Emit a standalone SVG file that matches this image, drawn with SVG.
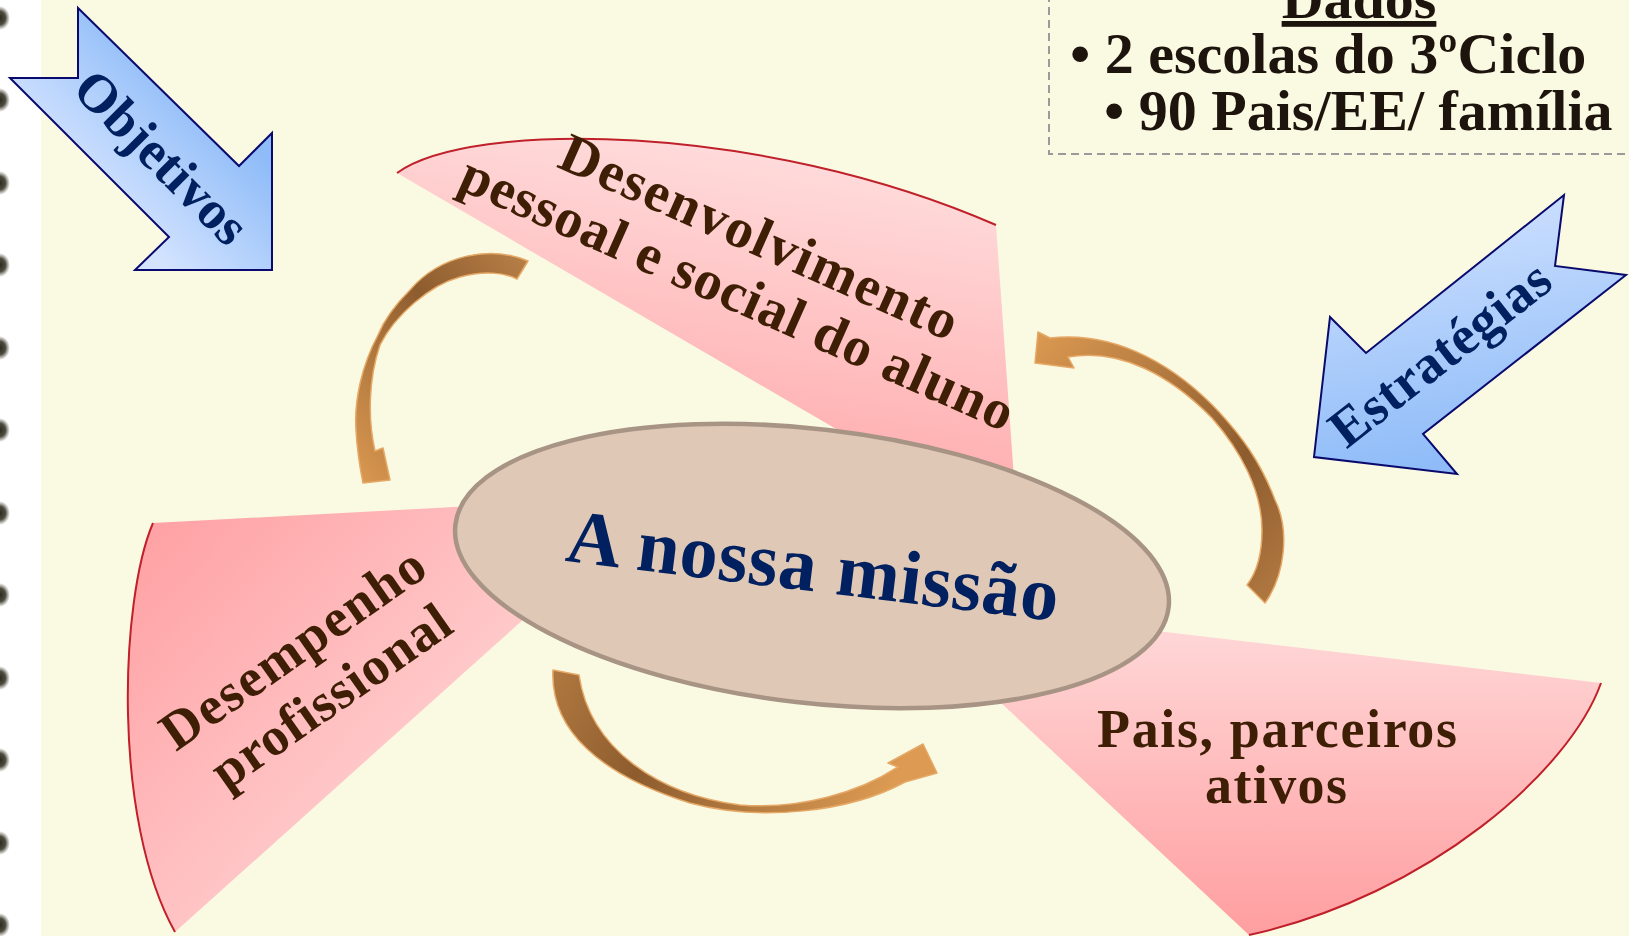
<svg xmlns="http://www.w3.org/2000/svg" width="1629" height="936" viewBox="0 0 1629 936">
<defs>
<style>
.petal-edge{fill:none;stroke:#c0202a;stroke-width:2}
.ptxt{font-family:"Liberation Serif","Times New Roman",serif;font-weight:bold;fill:#3e1e04}
.btxt{font-family:"Liberation Serif","Times New Roman",serif;font-weight:bold;fill:#002060}
.dtxt{font-family:"Liberation Serif","Times New Roman",serif;font-weight:bold;fill:#1e140e;font-size:58px}
.blk{stroke:#0a0a6e;stroke-width:2;stroke-linejoin:miter}
.curv{stroke:#e6a866;stroke-width:1.5;stroke-linejoin:round}
</style>
<radialGradient id="dot" cx="0.5" cy="0.5" r="0.5">
<stop offset="0" stop-color="#2a2a1e"/>
<stop offset="0.55" stop-color="#3a382a" stop-opacity="0.9"/>
<stop offset="1" stop-color="#5a5845" stop-opacity="0"/>
</radialGradient>
<linearGradient id="gTop" x1="0.65" y1="0" x2="0.4" y2="1">
<stop offset="0" stop-color="#ffdede"/>
<stop offset="1" stop-color="#ffa0a2"/>
</linearGradient>
<linearGradient id="gLeft" x1="0" y1="0.05" x2="0.85" y2="0.7">
<stop offset="0" stop-color="#ff9fa2"/>
<stop offset="1" stop-color="#ffdcdc"/>
</linearGradient>
<linearGradient id="gRight" x1="0" y1="0" x2="0" y2="1">
<stop offset="0" stop-color="#ffdcdc"/>
<stop offset="1" stop-color="#ff9ea0"/>
</linearGradient>
<linearGradient id="gObj" gradientUnits="userSpaceOnUse" x1="95" y1="200" x2="200" y2="95">
<stop offset="0" stop-color="#d4e4ff"/>
<stop offset="1" stop-color="#8fbcf8"/>
</linearGradient>
<linearGradient id="gEst" x1="0" y1="0" x2="0.2" y2="1">
<stop offset="0" stop-color="#d4e4ff"/>
<stop offset="1" stop-color="#8fbcf8"/>
</linearGradient>
<linearGradient id="gA1" x1="1" y1="0" x2="0" y2="1">
<stop offset="0" stop-color="#b98048"/>
<stop offset="0.4" stop-color="#8d5c2e"/>
<stop offset="1" stop-color="#dc9a52"/>
</linearGradient>
<linearGradient id="gA2" x1="0" y1="0" x2="1" y2="0.2">
<stop offset="0" stop-color="#b07840"/>
<stop offset="0.35" stop-color="#8d5c2e"/>
<stop offset="1" stop-color="#dc9a52"/>
</linearGradient>
<linearGradient id="gA3" x1="1" y1="1" x2="0" y2="0">
<stop offset="0" stop-color="#b47a42"/>
<stop offset="0.35" stop-color="#8d5c2e"/>
<stop offset="1" stop-color="#dc9a52"/>
</linearGradient>
</defs>

<rect x="0" y="0" width="1629" height="936" fill="#fafae3"/>
<rect x="0" y="0" width="41" height="936" fill="#ffffff"/>
<g id="binding">
<ellipse cx="0" cy="18" rx="10" ry="12" fill="url(#dot)"/>
<ellipse cx="0" cy="100" rx="10" ry="12" fill="url(#dot)"/>
<ellipse cx="0" cy="183" rx="10" ry="12" fill="url(#dot)"/>
<ellipse cx="0" cy="265" rx="10" ry="12" fill="url(#dot)"/>
<ellipse cx="0" cy="348" rx="10" ry="12" fill="url(#dot)"/>
<ellipse cx="0" cy="430" rx="10" ry="12" fill="url(#dot)"/>
<ellipse cx="0" cy="513" rx="10" ry="12" fill="url(#dot)"/>
<ellipse cx="0" cy="595" rx="10" ry="12" fill="url(#dot)"/>
<ellipse cx="0" cy="678" rx="10" ry="12" fill="url(#dot)"/>
<ellipse cx="0" cy="760" rx="10" ry="12" fill="url(#dot)"/>
<ellipse cx="0" cy="843" rx="10" ry="12" fill="url(#dot)"/>
<ellipse cx="0" cy="925" rx="10" ry="12" fill="url(#dot)"/>
</g>

<g id="node-desenvolvimento">
<path d="M397,173 C470,120 760,122 996,225 L1018,535 Z" fill="url(#gTop)"/>
<path class="petal-edge" d="M397,173 C470,120 760,122 996,225"/>
<text class="ptxt" font-size="56" text-anchor="middle" textLength="430" transform="translate(752,254) rotate(24)">Desenvolvimento</text>
<text class="ptxt" font-size="56" text-anchor="middle" textLength="600" transform="translate(730,310) rotate(24)">pessoal e social do aluno</text>
</g>

<g id="node-desempenho">
<path d="M153,523 C120,600 112,820 175,932 L661,496 Z" fill="url(#gLeft)"/>
<path class="petal-edge" d="M153,523 C120,600 112,820 175,932"/>
<text class="ptxt" font-size="54" text-anchor="middle" textLength="310" transform="translate(303,663) rotate(-35)">Desempenho</text>
<text class="ptxt" font-size="54" text-anchor="middle" textLength="280" transform="translate(341,711) rotate(-35)">profissional</text>
</g>

<g id="node-pais">
<path d="M1601,683 C1570,770 1430,895 1249,935 L891,600 Z" fill="url(#gRight)"/>
<path class="petal-edge" d="M1601,683 C1570,770 1430,895 1249,935"/>
<text class="ptxt" font-size="54" text-anchor="middle" x="1277" y="747" textLength="360">Pais, parceiros</text>
<text class="ptxt" font-size="54" text-anchor="middle" x="1276" y="803" textLength="142">ativos</text>
</g>

<g id="node-missao">
<ellipse cx="812" cy="566" rx="359" ry="137" transform="rotate(6.6 812 566)" fill="#e0c8b7" stroke="#a89484" stroke-width="4.5"/>
<text class="btxt" font-size="76" text-anchor="middle" textLength="495" transform="translate(810,591) rotate(7)">A nossa missão</text>
</g>

<g id="connectors">
<path class="curv" fill="url(#gA1)" d="M528,261 C490,245 440,255 410,290 C395,305 385,318 378,335 C362,365 354,400 356,430 C357,450 360,468 363,483 L390,480 L383,448 L375,451 C368,420 368,380 380,345 C395,315 430,285 460,277 C485,270 505,273 517,279 Z"/>
<path class="curv" fill="url(#gA2)" d="M553,670 C550,730 600,775 690,803 C760,822 850,812 905,782 L937,773 L923,744 L888,763 L898,767 C860,792 800,810 740,805 C660,795 590,750 579,675 Z"/>
<path class="curv" fill="url(#gA3)" d="M1265,603 C1285,575 1290,530 1275,500 C1260,460 1240,435 1220,413 C1180,370 1120,330 1050,338 L1038,332 L1035,363 L1074,368 L1068,357 C1120,348 1170,375 1212,418 C1240,450 1262,490 1262,530 C1262,555 1257,572 1247,585 Z"/>
</g>

<g id="node-objetivos">
<path class="blk" fill="url(#gObj)" d="M78,8 L239,166 L272,133 L272,270 L135,270 L169,237 L10,78 L78,78 Z"/>
<text class="btxt" font-size="54" text-anchor="middle" transform="translate(149,170) rotate(45)">Objetivos</text>
</g>

<g id="node-estrategias">
<path class="blk" fill="url(#gEst)" d="M1564,195 L1555,266 L1626,275 L1423,434 L1457,474 L1314,457 L1330,317 L1366,353 Z"/>
<text class="btxt" font-size="54" text-anchor="middle" textLength="265" transform="translate(1451,368) rotate(-38)">Estratégias</text>
</g>

<g id="node-dados">
<rect x="1049" y="-10" width="700" height="164" fill="none" stroke="#9a9a9a" stroke-width="2" stroke-dasharray="8,5"/>
<text class="dtxt" x="1359" y="18" text-anchor="middle" text-decoration="underline">Dados</text>
<text class="dtxt" x="1070" y="73">• 2 escolas do 3ºCiclo</text>
<text class="dtxt" x="1104" y="130">• 90 Pais/EE/ família</text>
</g>
</svg>
